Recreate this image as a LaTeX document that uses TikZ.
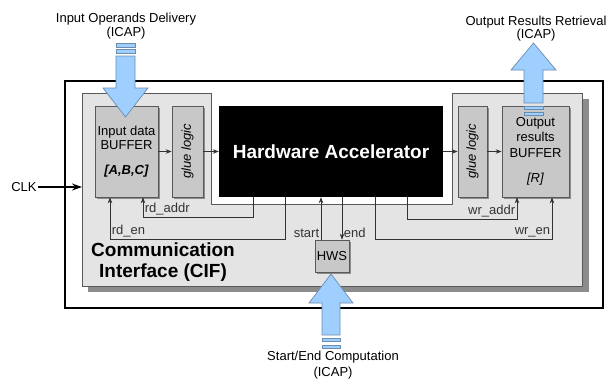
\documentclass[tikz,border=0pt]{standalone}
\usepackage{fontspec}
\setmainfont{Liberation Sans}
\setsansfont{Liberation Sans}
\usetikzlibrary{arrows.meta,positioning,shadows,calc}
\definecolor{cifgray}{HTML}{E4E4E4}
\definecolor{boxgray}{HTML}{C8C8C8}
\definecolor{shadowgray}{HTML}{8C8C8C}
\definecolor{icapblue}{HTML}{9ECFFF}
\definecolor{icapedge}{HTML}{6A8CAF}

\begin{document}
\begin{tikzpicture}[
    x=1pt, y=-1pt,
    >={Stealth[length=6pt,width=4.5pt]},
    block/.style={
        rectangle,
        draw=gray!70!black,
        fill=boxgray,
        line width=0.7pt,
        minimum height=91pt,
        inner sep=1pt,
        align=center,
        font=\fontsize{13}{14}\selectfont,
        drop shadow={shadow xshift=1.6pt, shadow yshift=-1.6pt, fill=shadowgray, opacity=1}
    },
    accel/.style={
        rectangle,
        fill=black,
        text=white,
        minimum width=224pt,
        minimum height=91pt,
        font=\fontsize{19}{21}\selectfont\bfseries
    },
    sig/.style={
        line width=0.7pt,
        color=black!80
    },
    label/.style={
        font=\fontsize{13}{14}\selectfont,
        inner sep=1.5pt
    },
    bigarrow/.style={
        fill=icapblue,
        draw=icapedge,
        line width=0.7pt
    },
    frame/.style={
        line width=1.6pt,
        draw=black
    }
]
\useasboundingbox (0,0) rectangle (612,380);

% Outer frame
\draw[frame] (65,81) rectangle (603,308);

% Communication interface (shadow, notch, body)
\fill[shadowgray] (88,99) rectangle (589,292);
\fill[white] (211,93) rectangle (452,204);
\draw[fill=cifgray, draw=gray!70!black, line width=0.7pt]
    (82,93) -- (211,93) -- (211,204) -- (452,204) -- (452,93)
    -- (582,93) -- (582,286) -- (82,286) -- cycle;
\node[font=\fontsize{19}{21}\selectfont\bfseries, align=center] (ciflabel) at (163,262.5)
    {Communication\\Interface (CIF)};

% Blocks
\node[block, minimum width=63pt] (inbuf) at (126.5,151.5)
    {Input data\\BUFFER\\[11pt]\textbf{\textit{[A,B,C]}}};
\node[block, minimum width=31pt] (gluein) at (187.5,151.5)
    {\rotatebox{90}{\textit{glue logic}}};
\node[accel] (acc) at (331,151.5) {Hardware Accelerator};
\node[block, minimum width=29pt] (glueout) at (472.5,151.5)
    {\rotatebox{90}{\textit{glue logic}}};
\node[block, minimum width=67pt, font=\fontsize{13}{15.5}\selectfont] (outbuf) at (535.5,151.5)
    {Output\\results\\BUFFER\\[10pt]\textit{[R]}};
\node[block, minimum width=34pt, minimum height=32pt] (hws) at (332,256) {HWS};

% Data path
\draw[sig,->] (inbuf) -- (gluein);
\draw[sig,->] (gluein) -- (acc);
\draw[sig,->] (acc) -- (glueout);
\draw[sig,->] (glueout) -- (outbuf);

% Control signals
\draw[sig,->] ([xshift=-78pt]acc.south) -- ++(0,20)
    -| node[pos=0.5, above right, label] {rd\_addr} ([xshift=16.5pt]inbuf.south);
\draw[sig,->] ([xshift=-46pt]acc.south) -- ++(0,42)
    -| node[pos=0.5, above right, label] {rd\_en} ([xshift=-16.5pt]inbuf.south);
\draw[sig,->] ([xshift=76pt]acc.south) -- ++(0,22)
    -| node[pos=0.5, above left, label] {wr\_addr} ([xshift=-18.5pt]outbuf.south);
\draw[sig,->] ([xshift=44pt]acc.south) -- ++(0,42)
    -| node[pos=0.5, above left, label] {wr\_en} ([xshift=16.5pt]outbuf.south);

\coordinate (startpin) at ([xshift=-11pt]hws.north);
\coordinate (endpin) at ([xshift=10pt]hws.north);
\draw[sig,->] (startpin) node[above left, label] {start} -- (startpin |- acc.south);
\draw[sig,->] (endpin |- acc.south) -- (endpin) node[above right, label] {end};

% Clock
\node[label] (clk) at (24,187) {CLK};
\coordinate (cifleft) at (82,187);
\draw[line width=1.6pt, -{Stealth[length=10pt,width=7pt]}] (clk) -- (cifleft);

% ICAP arrows
\draw[bigarrow] (116,56) -- (135,56) -- (135,88) -- (148,88) -- (125.5,117)
    -- (103,88) -- (116,88) -- cycle;
\draw[bigarrow] (116,43) rectangle (135,47);
\draw[bigarrow] (116,49) rectangle (135,53);

\draw[bigarrow] (524,103) -- (543,103) -- (543,70) -- (556,70) -- (533.5,43)
    -- (511,70) -- (524,70) -- cycle;
\draw[bigarrow] (524,106) rectangle (543,109);
\draw[bigarrow] (524,112) rectangle (543,115);

\draw[bigarrow] (322,335) -- (340,335) -- (340,303) -- (353,303) -- (331,274)
    -- (309,303) -- (322,303) -- cycle;
\draw[bigarrow] (322,338) rectangle (340,341);
\draw[bigarrow] (322,345) rectangle (340,348);

% ICAP labels
\node[label, align=center, font=\fontsize{13}{14}\selectfont] (icapin) at (126,26)
    {Input Operands Delivery\\(ICAP)};
\node[label, align=center, font=\fontsize{13}{13}\selectfont] (icapout) at (536,29)
    {Output Results Retrieval\\(ICAP)};
\node[label, align=center, font=\fontsize{13}{16}\selectfont] (icapctl) at (333,365)
    {Start/End Computation\\(ICAP)};

\end{tikzpicture}
\end{document}
